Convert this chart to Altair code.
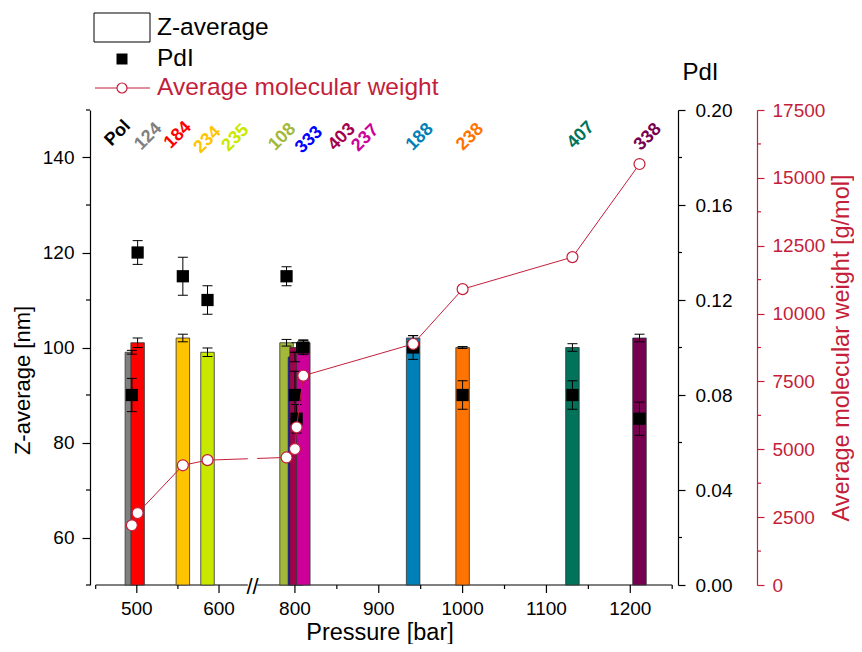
import altair as alt
import pandas as pd

# ---------------- data ----------------
samples = ["124", "184", "234", "235", "108", "333", "403", "237", "188", "238", "407", "338"]
pressure = [494, 501, 556, 586, 790, 800, 802, 810, 941, 1000, 1131, 1211]
z_average = [99, 101, 102, 99, 101, 98, 100, 101, 102, 100, 100, 102]
z_error = [0.4, 1.0, 0.8, 0.9, 0.7, 1.0, 1.0, 0.6, 0.5, 0.2, 0.8, 0.8]
pdi = [0.080, 0.140, 0.130, 0.120, 0.130, 0.080, 0.070, 0.100, 0.100, 0.080, 0.080, 0.070]
pdi_error = [0.007, 0.005, 0.008, 0.006, 0.004, 0.010, 0.006, 0.003, 0.005, 0.006, 0.006, 0.007]
mw = [2200, 2650, 4410, 4600, 4700, 5010, 5810, 7710, 8880, 10900, 12080, 15510]
sample_colors = ["#808080", "#FF0000", "#FFC400", "#C8E800", "#A3B838", "#0000FF",
                 "#A3004E", "#CC0099", "#0080B6", "#FF7400", "#00735A", "#780050"]
label_x = [514, 550, 586, 620, 785, 817, 856, 884, 949, 1009, 1141, 1221]
label_y = [144.4, 144.7, 143.7, 144.1, 144.3, 143.7, 144.3, 144.1, 144.3, 144.3, 144.7, 144.3]
head_label = ["Pol"]
head_x = [477]
head_y = [145.1]

x_ticks = [500, 600, 800, 900, 1000, 1100, 1200]
x_minor = [450, 550, 850, 950, 1050, 1150, 1250]
x_ends = [450, 1250]
z_ticks = [60, 80, 100, 120, 140]
z_minor = [50, 70, 90, 110, 130, 150]
pdi_ticks = [0.0, 0.04, 0.08, 0.12, 0.16, 0.20]
pdi_minor = [0.02, 0.06, 0.10, 0.14, 0.18]
mw_ticks = [0, 2500, 5000, 7500, 10000, 12500, 15000, 17500]
mw_minor = [1250, 3750, 6250, 8750, 11250, 13750, 16250]
break_from, break_to = 635, 755

# ---------------- setup ----------------
W, H = 588, 475
FONT = "Liberation Sans"
RED = "#C41E3A"

x_scale = alt.Scale(domain=[450, break_from, break_to, 1250], range=[0, 157.8, 167.2, W],
                    nice=False, zero=False)
z_scale = alt.Scale(domain=[50, 150], nice=False, zero=False)
pdi_scale = alt.Scale(domain=[0, 0.2], nice=False, zero=False)
mw_scale = alt.Scale(domain=[0, 17500], nice=False, zero=False)
col_scale = alt.Scale(domain=samples, range=sample_colors)

df = pd.DataFrame(dict(sample=samples, pressure=pressure, z=z_average, zerr=z_error,
                       pdi=pdi, pdierr=pdi_error, mw=mw, lx=label_x, ly=label_y))
df["z_lo"] = df["z"] - df["zerr"]
df["z_hi"] = df["z"] + df["zerr"]
df["p_lo"] = df["pdi"] - df["pdierr"]
df["p_hi"] = df["pdi"] + df["pdierr"]

base = alt.Chart(df)
X0 = alt.X("pressure:Q", scale=x_scale, axis=None)

# ---------------- Z-average ----------------
bars = base.mark_bar(orient="vertical", size=13.5, stroke="#333333", strokeWidth=0.8).encode(
    x=X0,
    y=alt.Y("z:Q", scale=z_scale,
            axis=alt.Axis(values=z_ticks, title="Z-average [nm]", tickSize=8, labelPadding=8,
                          titleFontSize=22, titleY=270, titleAlign="center", titlePadding=8,
                          grid=False)),
    y2=alt.datum(50),
    color=alt.Color("sample:N", scale=col_scale, legend=None),
)
z_rule = base.mark_rule(color="black", strokeWidth=1).encode(
    x=X0, y=alt.Y("z_lo:Q", scale=z_scale, axis=None), y2="z_hi:Q")
z_cap_lo = base.mark_tick(orient="horizontal", size=10, thickness=1, color="black", opacity=1).encode(
    x=X0, y=alt.Y("z_lo:Q", scale=z_scale, axis=None))
z_cap_hi = base.mark_tick(orient="horizontal", size=10, thickness=1, color="black", opacity=1).encode(
    x=X0, y=alt.Y("z_hi:Q", scale=z_scale, axis=None))
labels = base.mark_text(angle=315, font=FONT, fontSize=18, fontWeight="bold",
                        align="center", baseline="middle").encode(
    x=alt.X("lx:Q", scale=x_scale, axis=None),
    y=alt.Y("ly:Q", scale=z_scale, axis=None),
    text="sample:N",
    color=alt.Color("sample:N", scale=col_scale, legend=None),
)
head = alt.Chart(pd.DataFrame(dict(t=head_label, x=head_x, y=head_y))).mark_text(
    angle=315, font=FONT, fontSize=18, fontWeight="bold", align="center", baseline="middle",
    color="black").encode(
    x=alt.X("x:Q", scale=x_scale, axis=None),
    y=alt.Y("y:Q", scale=z_scale, axis=None),
    text="t:N")
z_min = alt.Chart(pd.DataFrame(dict(v=z_minor))).mark_rule(color="black", strokeWidth=1.2).encode(
    y=alt.Y("v:Q", scale=z_scale, axis=None), x=alt.value(0), x2=alt.value(-4))

# ---------------- PdI ----------------
p_rule = base.mark_rule(color="black", strokeWidth=1).encode(
    x=X0, y=alt.Y("p_lo:Q", scale=pdi_scale, axis=None), y2="p_hi:Q")
p_cap_lo = base.mark_tick(orient="horizontal", size=10, thickness=1, color="black", opacity=1).encode(
    x=X0, y=alt.Y("p_lo:Q", scale=pdi_scale, axis=None))
p_cap_hi = base.mark_tick(orient="horizontal", size=10, thickness=1, color="black", opacity=1).encode(
    x=X0, y=alt.Y("p_hi:Q", scale=pdi_scale, axis=None))
p_pts = base.mark_point(shape="square", filled=True, size=150, color="black", opacity=1).encode(
    x=X0,
    y=alt.Y("pdi:Q", scale=pdi_scale,
            axis=alt.Axis(orient="right", values=pdi_ticks, format=".2f", title="PdI",
                          titleAngle=0, titleX=22, titleY=-38, titleAlign="center",
                          titleBaseline="middle", titleFontSize=24,
                          tickSize=7, labelPadding=10, grid=False)),
)
p_min = alt.Chart(pd.DataFrame(dict(v=pdi_minor))).mark_rule(color="black", strokeWidth=1.2).encode(
    y=alt.Y("v:Q", scale=pdi_scale, axis=None), x=alt.value(W), x2=alt.value(W + 4))

# ---------------- Mw ----------------
mw_line = base.mark_line(color=RED, strokeWidth=1).encode(
    x=X0, y=alt.Y("mw:Q", scale=mw_scale, axis=None))
mw_pts = base.mark_point(shape="circle", filled=True, fill="white", stroke=RED, strokeWidth=1.2,
                         size=120, opacity=1).encode(
    x=X0,
    y=alt.Y("mw:Q", scale=mw_scale,
            axis=alt.Axis(orient="right", offset=79, values=mw_ticks, format="d",
                          title="Average molecular weight [g/mol]", titleAngle=270,
                          titleBaseline="top", titlePadding=5, titleFontSize=23.5,
                          tickSize=7, labelPadding=8, grid=False,
                          domainColor=RED, tickColor=RED, labelColor=RED, titleColor=RED)),
)
mw_min = alt.Chart(pd.DataFrame(dict(v=mw_minor))).mark_rule(color=RED, strokeWidth=1.2).encode(
    y=alt.Y("v:Q", scale=mw_scale, axis=None), x=alt.value(W + 79), x2=alt.value(W + 83))

# ---------------- hand-built broken x axis ----------------
one = pd.DataFrame(dict(k=[0]))
brk = pd.DataFrame(dict(a=[break_from], b=[break_to], c=[(break_from + break_to) / 2]))
ends = pd.DataFrame(dict(a=[x_ends[0]], b=[x_ends[1]]))
x_line = alt.Chart(ends).mark_rule(color="black", strokeWidth=1.2).encode(
    x=alt.X("a:Q", scale=x_scale, axis=None), x2="b:Q", y=alt.value(H))
x_major = alt.Chart(pd.DataFrame(dict(v=x_ticks))).mark_rule(color="black", strokeWidth=1.2).encode(
    x=alt.X("v:Q", scale=x_scale, axis=None), y=alt.value(H), y2=alt.value(H + 8))
x_lab = alt.Chart(pd.DataFrame(dict(v=x_ticks))).mark_text(
    font=FONT, fontSize=19, color="black", align="center", baseline="middle").encode(
    x=alt.X("v:Q", scale=x_scale, axis=None), y=alt.value(H + 24), text="v:Q")
x_title = alt.Chart(one).mark_text(text="Pressure [bar]", font=FONT, fontSize=23.5, color="black",
                                   align="center", baseline="middle").encode(
    x=alt.value(W / 2 - 4), y=alt.value(H + 48))
x_min = alt.Chart(pd.DataFrame(dict(v=x_minor))).mark_rule(color="black", strokeWidth=1.2).encode(
    x=alt.X("v:Q", scale=x_scale, axis=None), y=alt.value(H), y2=alt.value(H + 4))
gap = alt.Chart(brk).mark_rect(color="white").encode(
    x=alt.X("a:Q", scale=x_scale, axis=None), x2="b:Q",
    y=alt.value(300), y2=alt.value(H + 3))
slash = alt.Chart(brk).mark_text(text="//", font=FONT, fontSize=22, color="black",
                                 align="center", baseline="middle").encode(
    x=alt.X("c:Q", scale=x_scale, axis=None), y=alt.value(H + 2))

# ---------------- legend ----------------
LF = 24.5
leg_box = alt.Chart(one).mark_rect(fill="white", stroke="black", strokeWidth=1).encode(
    x=alt.value(4), x2=alt.value(60), y=alt.value(-97), y2=alt.value(-68))
leg_t1 = alt.Chart(one).mark_text(text="Z-average", font=FONT, fontSize=LF, align="left",
                                  baseline="middle", color="black").encode(
    x=alt.value(67), y=alt.value(-82))
leg_sq = alt.Chart(one).mark_point(shape="square", filled=True, size=121, color="black",
                                   opacity=1).encode(x=alt.value(32), y=alt.value(-51))
leg_t2 = alt.Chart(one).mark_text(text="PdI", font=FONT, fontSize=LF, align="left",
                                  baseline="middle", color="black").encode(
    x=alt.value(67), y=alt.value(-51))
leg_ln = alt.Chart(one).mark_rule(color=RED, strokeWidth=1).encode(
    x=alt.value(5), x2=alt.value(60), y=alt.value(-22))
leg_ci = alt.Chart(one).mark_point(shape="circle", filled=True, fill="white", stroke=RED,
                                   strokeWidth=1.2, size=100, opacity=1).encode(
    x=alt.value(32), y=alt.value(-22))
leg_t3 = alt.Chart(one).mark_text(text="Average molecular weight", font=FONT, fontSize=LF,
                                  align="left", baseline="middle", color=RED).encode(
    x=alt.value(67), y=alt.value(-22))

chart = alt.layer(
    x_line,
    bars, z_rule, z_cap_lo, z_cap_hi, labels, head, z_min,
    p_rule, p_cap_lo, p_cap_hi, p_pts, p_min,
    mw_line, mw_pts, mw_min,
    x_major, x_lab, x_title, x_min, gap, slash,
    leg_box, leg_t1, leg_sq, leg_t2, leg_ln, leg_ci, leg_t3,
).resolve_scale(y="independent").properties(
    width=W, height=H,
    autosize=alt.AutoSizeParams(type="none"),
    padding={"left": 82, "top": 102, "right": 176, "bottom": 59},
).configure_view(stroke=None).configure_axis(
    labelFont=FONT, titleFont=FONT, labelFontSize=19, titleFontSize=23,
    titleFontWeight="normal", labelColor="black", titleColor="black",
    domainColor="black", tickColor="black", domainWidth=1.2, tickWidth=1.2,
)

chart.save("out.html", embed_options={"renderer": "svg", "actions": False})
